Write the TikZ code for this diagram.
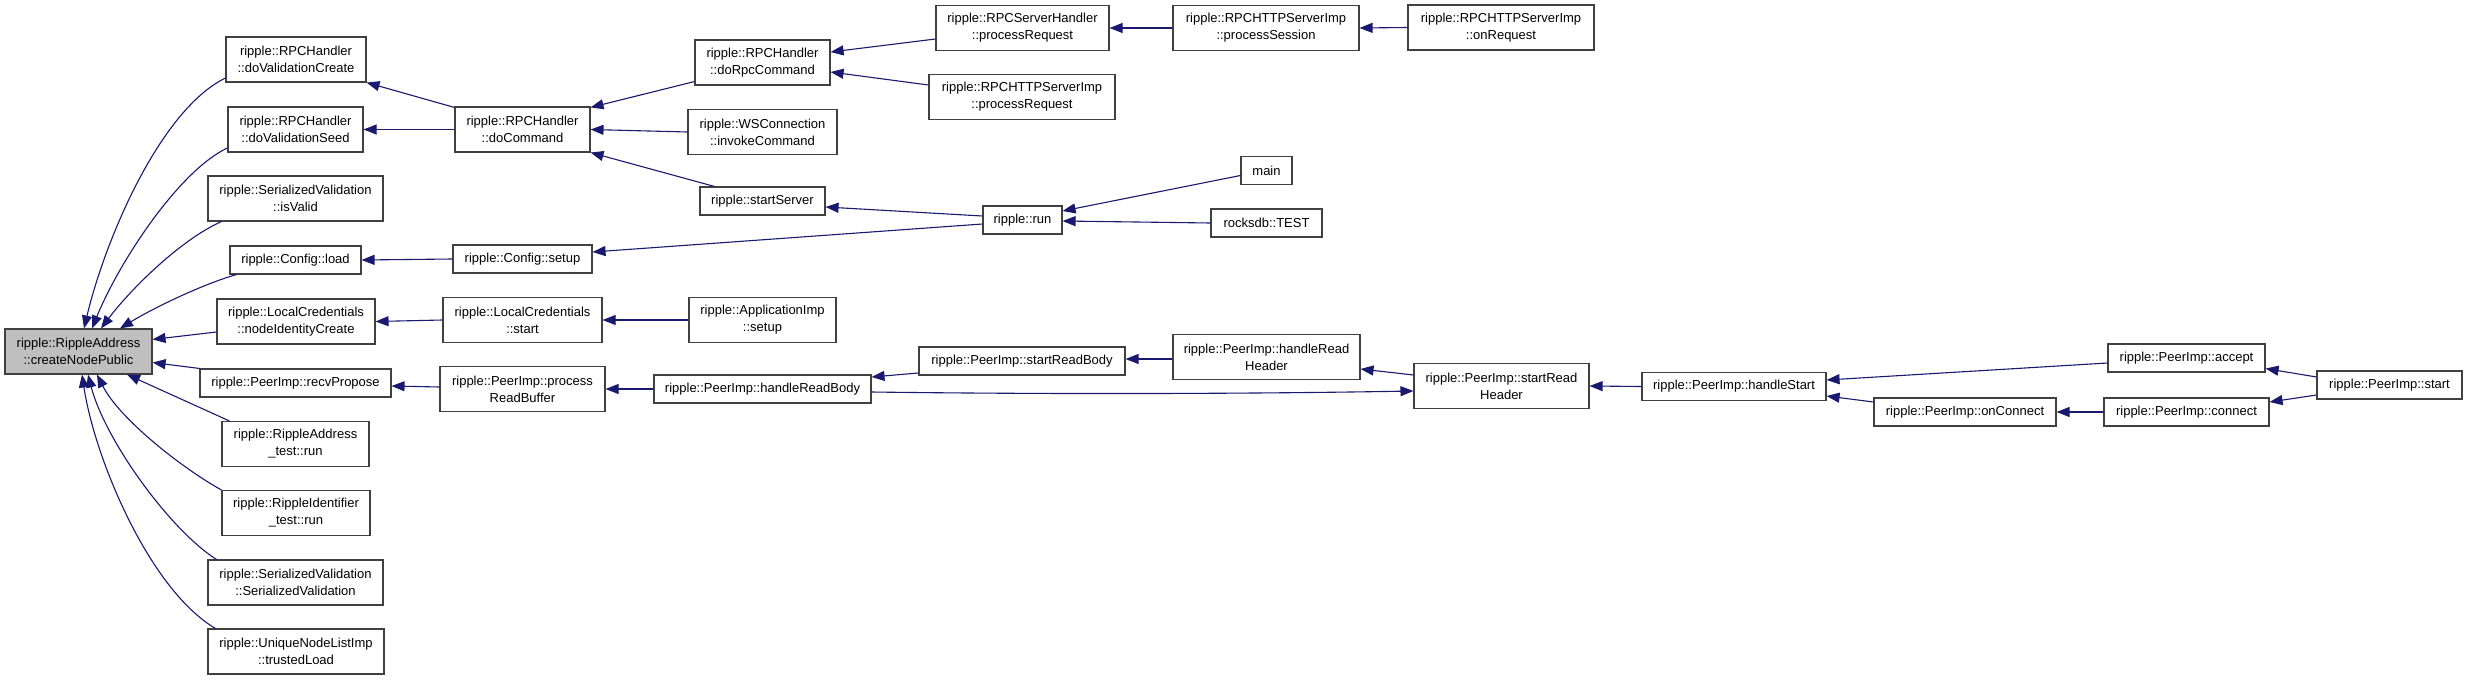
\documentclass[tikz,border=0pt]{standalone}
\usepackage{fontspec}
\setmainfont{Liberation Sans}
\usetikzlibrary{arrows.meta}
\definecolor{edgeblue}{HTML}{191970}
\definecolor{boxgray}{HTML}{404040}
\definecolor{cnpgray}{HTML}{BFBFBF}
\begin{document}
\begin{tikzpicture}[x=1pt,y=-1pt,
  box/.style={draw=boxgray, fill=white, line width=1.1pt, inner sep=0pt, align=center,
    font=\fontsize{13}{17}\selectfont},
  edge/.style={draw=edgeblue, line width=1.1pt, -{Triangle[length=13pt,width=10pt]}},
  sz/.style 2 args={minimum width=#1pt, minimum height=#2pt}]
\useasboundingbox (0,0) rectangle (2467,680);
\fill[white] (0,0) rectangle (2467,680);
% column 0
\node[box, sz={147}{45}, fill=cnpgray] (cnp) at (78.5,351.5) {ripple::RippleAddress\\::createNodePublic};
% column 1
\node[box, sz={140}{45}] (dvc) at (296,59.5) {ripple::RPCHandler\\::doValidationCreate};
\node[box, sz={135}{45}] (dvs) at (295.5,129.5) {ripple::RPCHandler\\::doValidationSeed};
\node[box, sz={175}{45}] (isv) at (295.5,198.5) {ripple::SerializedValidation\\::isValid};
\node[box, sz={131}{28}] (cload) at (295.5,260) {ripple::Config::load};
\node[box, sz={158}{45}] (nic) at (296,321.5) {ripple::LocalCredentials\\::nodeIdentityCreate};
\node[box, sz={191}{28}] (rp) at (295.5,383) {ripple::PeerImp::recvPropose};
\node[box, sz={147}{45}] (rat) at (295.5,444) {ripple::RippleAddress\\\_test::run};
\node[box, sz={148}{45}] (rit) at (296,513) {ripple::RippleIdentifier\\\_test::run};
\node[box, sz={175}{45}] (svsv) at (295.5,582.5) {ripple::SerializedValidation\\::SerializedValidation};
\node[box, sz={176}{45}] (tl) at (296,651.5) {ripple::UniqueNodeListImp\\::trustedLoad};
% column 2
\node[box, sz={135}{45}] (dc) at (522.5,129.5) {ripple::RPCHandler\\::doCommand};
\node[box, sz={139}{28}] (cset) at (522.5,259) {ripple::Config::setup};
\node[box, sz={159}{45}] (lcs) at (522.5,320) {ripple::LocalCredentials\\::start};
\node[box, sz={165}{45}] (prb) at (522.5,389) {ripple::PeerImp::process\\ReadBuffer};
% column 3
\node[box, sz={135}{45}] (drc) at (762.5,62.5) {ripple::RPCHandler\\::doRpcCommand};
\node[box, sz={149}{45}] (wsc) at (762.5,132) {ripple::WSConnection\\::invokeCommand};
\node[box, sz={125}{28}] (ss) at (762.5,201) {ripple::startServer};
\node[box, sz={147}{45}] (ais) at (762.5,320) {ripple::ApplicationImp\\::setup};
\node[box, sz={217}{28}] (hrb) at (762.5,389) {ripple::PeerImp::handleReadBody};
% column 4
\node[box, sz={173}{45}] (rshp) at (1022.5,28) {ripple::RPCServerHandler\\::processRequest};
\node[box, sz={186}{45}] (rhpr) at (1022,97) {ripple::RPCHTTPServerImp\\::processRequest};
\node[box, sz={79}{28}] (run) at (1022.5,220) {ripple::run};
\node[box, sz={206}{28}] (srb) at (1022,361) {ripple::PeerImp::startReadBody};
% column 5
\node[box, sz={186}{45}] (psess) at (1266,28) {ripple::RPCHTTPServerImp\\::processSession};
\node[box, sz={51}{28}] (main) at (1266.5,170.5) {main};
\node[box, sz={111}{28}] (rtest) at (1266.5,223) {rocksdb::TEST};
\node[box, sz={187}{45}] (hrh) at (1266.5,357) {ripple::PeerImp::handleRead\\Header};
% column 6
\node[box, sz={186}{45}] (onreq) at (1501,27.5) {ripple::RPCHTTPServerImp\\::onRequest};
\node[box, sz={175}{45}] (srh) at (1501.5,386) {ripple::PeerImp::startRead\\Header};
% column 7+
\node[box, sz={184}{28}] (hs) at (1734,386.5) {ripple::PeerImp::handleStart};
\node[box, sz={182}{28}] (onc) at (1965,412) {ripple::PeerImp::onConnect};
\node[box, sz={157}{28}] (acc) at (2186.5,358) {ripple::PeerImp::accept};
\node[box, sz={165}{28}] (conn) at (2186.5,412) {ripple::PeerImp::connect};
\node[box, sz={145}{28}] (pst) at (2389.5,385) {ripple::PeerImp::start};
% edges into createNodePublic
\draw[edge] ([yshift=-18.5pt]dvc.west) .. controls (160,110) and (105,240) .. ([xshift=5.5pt]cnp.north);
\draw[edge] ([yshift=-18.5pt]dvs.west) .. controls (180,170) and (120,260) .. ([xshift=13.5pt]cnp.north);
\draw[edge] ([xshift=14pt]isv.south west) .. controls (180,240) and (130,290) .. ([xshift=22.5pt]cnp.north);
\draw[edge] ([xshift=7pt]cload.south west) .. controls (200,285) and (150,310) .. ([xshift=41.5pt]cnp.north);
\draw[edge] ([yshift=-10.5pt]nic.west) -- ([yshift=-11pt]cnp.north east);
\draw[edge] (rp.north west) -- ([yshift=12pt]cnp.south east);
\draw[edge] ([xshift=8pt]rat.north west) -- ([xshift=48.5pt]cnp.south);
\draw[edge] (rit.north west) .. controls (185,470) and (120,420) .. ([xshift=18.5pt]cnp.south);
\draw[edge] ([xshift=9pt]svsv.north west) .. controls (170,530) and (105,440) .. ([xshift=9.5pt]cnp.south);
\draw[edge] ([xshift=8pt]tl.north west) .. controls (150,590) and (95,460) .. ([xshift=3.5pt]cnp.south);
% column 2 -> 1
\draw[edge] ([yshift=-1pt]dc.north west) -- (dvc.south east);
\draw[edge] (dc.west) -- (dvs.east);
\draw[edge] (cset.west) -- (cload.east);
\draw[edge] (lcs.west) -- (nic.east);
\draw[edge] ([yshift=2pt]prb.west) -- ([yshift=-3pt]rp.east);
% column 3 -> 2
\draw[edge] ([yshift=4pt]drc.south west) -- ([yshift=-1pt]dc.north east);
\draw[edge] (wsc.west) -- (dc.east);
\draw[edge] ([xshift=15pt]ss.north west) -- (dc.south east);
\draw[edge] (ais.west) -- (lcs.east);
\draw[edge] (hrb.west) -- (prb.east);
% column 4 -> 3
\draw[edge] ([yshift=-11pt]rshp.west) -- ([yshift=10.5pt]drc.east);
\draw[edge] ([yshift=12pt]rhpr.west) -- ([yshift=-9.5pt]drc.east);
\draw[edge] ([yshift=4pt]run.west) -- ([yshift=-6pt]ss.east);
\draw[edge] ([yshift=-4pt]run.west) -- ([yshift=7pt]cset.east);
\draw[edge] ([yshift=-12pt]srb.west) -- ([yshift=12pt]hrb.east);
% column 5 -> 4
\draw[edge] (psess.west) -- (rshp.east);
\draw[edge] ([yshift=-5pt]main.west) -- ([yshift=9pt]run.east);
\draw[edge] (rtest.west) -- ([yshift=-1pt]run.east);
\draw[edge] ([yshift=-2pt]hrh.west) -- ([yshift=2pt]srb.east);
% column 6 -> 5
\draw[edge] (onreq.west) -- (psess.east);
\draw[edge] ([yshift=11pt]srh.west) -- ([yshift=-12pt]hrh.east);
\draw[edge] ([yshift=-3pt]hrb.east) .. controls (1100,395) and (1300,393) .. ([yshift=-5pt]srh.west);
% right part
\draw[edge] (hs.west) -- (srh.east);
\draw[edge] ([yshift=-5pt]acc.west) -- ([yshift=6.5pt]hs.east);
\draw[edge] ([yshift=10pt]onc.west) -- ([yshift=-9.5pt]hs.east);
\draw[edge] (conn.west) -- (onc.east);
\draw[edge] ([yshift=8pt]pst.west) -- ([yshift=4pt]acc.south east);
\draw[edge] ([yshift=-10pt]pst.west) -- ([yshift=10pt]conn.east);
\end{tikzpicture}
\end{document}
